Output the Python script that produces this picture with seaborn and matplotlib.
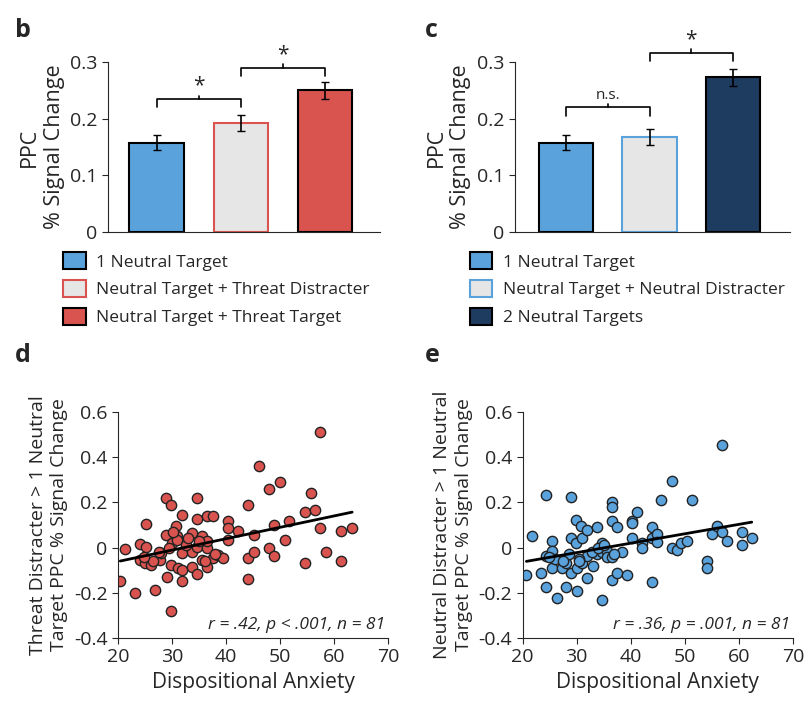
import numpy as np
import pandas as pd
import matplotlib
matplotlib.use("Agg")
import matplotlib.pyplot as plt
import seaborn as sns
from matplotlib.patches import Patch

# bar data
labels_b = ["1 Neutral Target", "Neutral Target + Threat Distracter", "Neutral Target + Threat Target"]
means_b = [0.158, 0.192, 0.250]
errs_b = [0.014, 0.014, 0.015]
labels_c = ["1 Neutral Target", "Neutral Target + Neutral Distracter", "2 Neutral Targets"]
means_c = [0.158, 0.168, 0.273]
errs_c = [0.014, 0.014, 0.015]

# scatter data (dispositional anxiety, signal change)
anx_d = [20.4, 21.3, 23.1, 25.1, 24.1, 25.2, 24.1, 25.0, 26.0, 26.9, 27.8, 27.9, 28.9, 29.8, 28.9, 29.0,
         29.8, 29.8, 30.0, 30.7, 30.9, 30.9, 31.0, 31.8, 31.8, 31.8, 31.8, 33.6, 33.6, 33.6, 34.6, 34.6,
         34.6, 34.6, 35.5, 35.5, 36.4, 36.4, 36.4, 36.4, 37.5, 37.5, 38.4, 39.4, 40.3, 40.3, 40.4, 42.2,
         44.1, 44.1, 44.1, 45.1, 45.1, 46.1, 48.0, 48.0, 48.9, 48.9, 49.9, 50.8, 51.7, 54.6, 54.6, 55.6,
         56.5, 57.4, 57.4, 58.5, 61.2, 61.2, 63.3, 26.5, 27.5, 30.2, 32.5, 35.0, 36.0, 24.8, 29.5, 33.0, 38.0]
sig_d = [-0.148, -0.006, -0.20, 0.105, 0.016, 0.004, -0.055, -0.07, -0.077, -0.19, -0.055, -0.025, 0.22,
         0.19, 0.056, -0.13, -0.28, -0.077, 0.02, 0.093, 0.05, 0.035, -0.09, 0.145, -0.025, -0.10, -0.148,
         0.064, -0.018, -0.087, 0.22, 0.126, 0.004, -0.117, 0.049, -0.055, 0.138, -0.003, -0.084, 0.027,
         0.138, -0.047, -0.033, -0.047, 0.116, 0.086, 0.034, 0.074, 0.187, -0.047, -0.139, 0.056, -0.018,
         0.36, 0.26, -0.003, 0.098, -0.036, 0.289, 0.034, 0.116, 0.156, -0.067, 0.239, 0.167, 0.51, 0.086,
         -0.018, 0.074, -0.058, 0.086, -0.06, -0.02, 0.07, 0.01, 0.03, -0.06, -0.04, 0.0, 0.04, -0.03]
anx_e = [20.7, 21.7, 23.4, 24.4, 24.4, 24.4, 25.4, 25.4, 25.4, 26.4, 27.2, 28.1, 28.1, 29.0, 29.0, 29.0,
         29.9, 29.9, 30.1, 30.1, 30.8, 31.0, 31.0, 31.9, 31.9, 31.9, 33.7, 33.7, 34.6, 34.6, 34.6, 35.6,
         35.6, 36.5, 36.5, 36.5, 36.5, 36.5, 37.4, 37.4, 38.4, 39.3, 40.2, 40.2, 40.2, 41.1, 42.0, 42.0,
         43.9, 43.9, 43.9, 44.8, 44.8, 45.7, 47.6, 47.6, 48.5, 49.4, 50.4, 51.3, 54.1, 54.1, 55.0, 55.9,
         56.9, 56.9, 57.8, 60.6, 60.6, 62.4, 26.0, 28.5, 30.5, 32.8, 34.0, 35.0, 24.9, 30.4, 33.0, 37.0, 27.5]
sig_e = [-0.123, 0.052, -0.111, 0.233, -0.037, -0.176, 0.027, -0.015, -0.092, -0.222, -0.092, -0.07,
         -0.176, 0.222, 0.04, -0.111, 0.121, 0.019, -0.092, -0.193, 0.096, 0.04, -0.067, 0.079, -0.037,
         -0.133, 0.089, -0.03, 0.022, -0.019, -0.233, -0.015, -0.044, 0.203, 0.178, 0.119, -0.044, -0.145,
         0.089, -0.111, -0.022, -0.123, 0.119, 0.108, 0.04, 0.159, 0.019, 0.0, 0.089, 0.04, -0.153, 0.059,
         0.025, 0.21, 0.292, 0.0, -0.01, 0.022, 0.03, 0.21, -0.059, -0.092, 0.059, 0.096, 0.452, 0.07, 0.03,
         0.07, 0.01, 0.04, -0.05, -0.03, -0.05, -0.02, 0.0, 0.01, -0.04, -0.06, -0.08, -0.03, -0.06]

sns.set_style("ticks")
plt.rcParams["font.family"] = ["Open Sans", "DejaVu Sans"]

BLUE = "#5aa2dc"
GRAY = "#e6e6e6"
RED = "#d9544f"
NAVY = "#1e3b60"

fig = plt.figure(figsize=(8.09, 7.07), dpi=100)


def bar_panel(rect, labels, means, errs, colors, edges, xlim, brackets):
    ax = fig.add_axes(rect)
    df = pd.DataFrame({"cond": labels, "val": means})
    sns.barplot(data=df, x="cond", y="val", hue="cond", palette=colors, width=0.65,
                legend=False, ax=ax, saturation=1)
    for p, ec in zip(ax.patches, edges):
        p.set_edgecolor(ec)
        p.set_linewidth(1.5)
    ax.errorbar(range(3), means, yerr=errs, fmt="none", ecolor="black", elinewidth=1.2, capsize=3)
    ax.set_xlim(*xlim)
    ax.set_ylim(0, 0.3)
    ax.set_yticks([0, 0.1, 0.2, 0.3])
    ax.set_yticklabels(["0", "0.1", "0.2", "0.3"])
    ax.set_xticks([])
    ax.set_xlabel("")
    ax.set_ylabel("PPC\n% Signal Change", fontsize=15.5, linespacing=1.2)
    ax.tick_params(axis="y", labelsize=14, direction="out", length=4)
    sns.despine(ax=ax)
    for (x0, x1, y, txt) in brackets:
        ax.plot([x0, x0, x1, x1], [y - 0.015, y, y, y - 0.015], color="black", lw=1.2, clip_on=False)
        ax.plot([(x0 + x1) / 2] * 2, [y, y + 0.006], color="black", lw=1.2, clip_on=False)
        ax.text((x0 + x1) / 2, y + 0.008 if txt != "*" else y + 0.004, txt, ha="center", va="bottom",
                fontsize=11 if txt != "*" else 15, clip_on=False)
    handles = [Patch(facecolor=c, edgecolor=e, linewidth=1.5) for c, e in zip(colors, edges)]
    ax.legend(handles, labels, loc="upper left", bbox_to_anchor=(-0.19, -0.08), frameon=False,
              fontsize=12.5, handlelength=1.3, handleheight=1.1, labelspacing=0.55, handletextpad=0.6,
              borderaxespad=0)
    return ax


bar_panel([0.1335, 0.672, 0.336, 0.240], labels_b, means_b, errs_b,
          [BLUE, GRAY, RED], ["black", RED, "black"], (-0.58, 2.65),
          [(0, 1, 0.235, "*"), (1, 2, 0.29, "*")])
bar_panel([0.6365, 0.672, 0.340, 0.240], labels_c, means_c, errs_c,
          [BLUE, GRAY, NAVY], ["black", BLUE, "black"], (-0.61, 2.68),
          [(0, 1, 0.22, "n.s."), (1, 2, 0.317, "*")])


def scatter_panel(rect, x, y, color, ylabel, stat):
    ax = fig.add_axes(rect)
    df = pd.DataFrame({"anx": x, "sig": y})
    sns.regplot(data=df, x="anx", y="sig", ci=None, ax=ax,
                scatter_kws=dict(s=55, color=color, edgecolor="#222222", linewidths=1, alpha=1),
                line_kws=dict(color="black", lw=2))
    ax.set_xlim(20, 70)
    ax.set_ylim(-0.4, 0.6)
    ax.set_xticks([20, 30, 40, 50, 60, 70])
    ax.set_yticks([-0.4, -0.2, 0, 0.2, 0.4, 0.6])
    ax.set_yticklabels(["-0.4", "-0.2", "0", "0.2", "0.4", "0.6"])
    ax.set_xlabel("Dispositional Anxiety", fontsize=15)
    ax.set_ylabel(ylabel, fontsize=14, linespacing=1.25)
    ax.tick_params(labelsize=14, direction="out", length=4)
    ax.text(0.99, 0.02, stat, transform=ax.transAxes, ha="right", va="bottom", fontsize=12.5,
            style="italic")
    sns.despine(ax=ax)


scatter_panel([0.146, 0.0976, 0.334, 0.32], anx_d, sig_d, RED,
              "Threat Distracter > 1 Neutral\nTarget PPC % Signal Change", "r = .42, p < .001, n = 81")
scatter_panel([0.646, 0.0976, 0.334, 0.32], anx_e, sig_e, BLUE,
              "Neutral Distracter > 1 Neutral\nTarget PPC % Signal Change", "r = .36, p = .001, n = 81")

for lbl, x, y in [("b", 0.018, 0.975), ("c", 0.525, 0.975), ("d", 0.018, 0.515), ("e", 0.525, 0.515)]:
    fig.text(x, y, lbl, fontsize=18, fontweight="bold", va="top")

fig.savefig("out.png", dpi=100)
